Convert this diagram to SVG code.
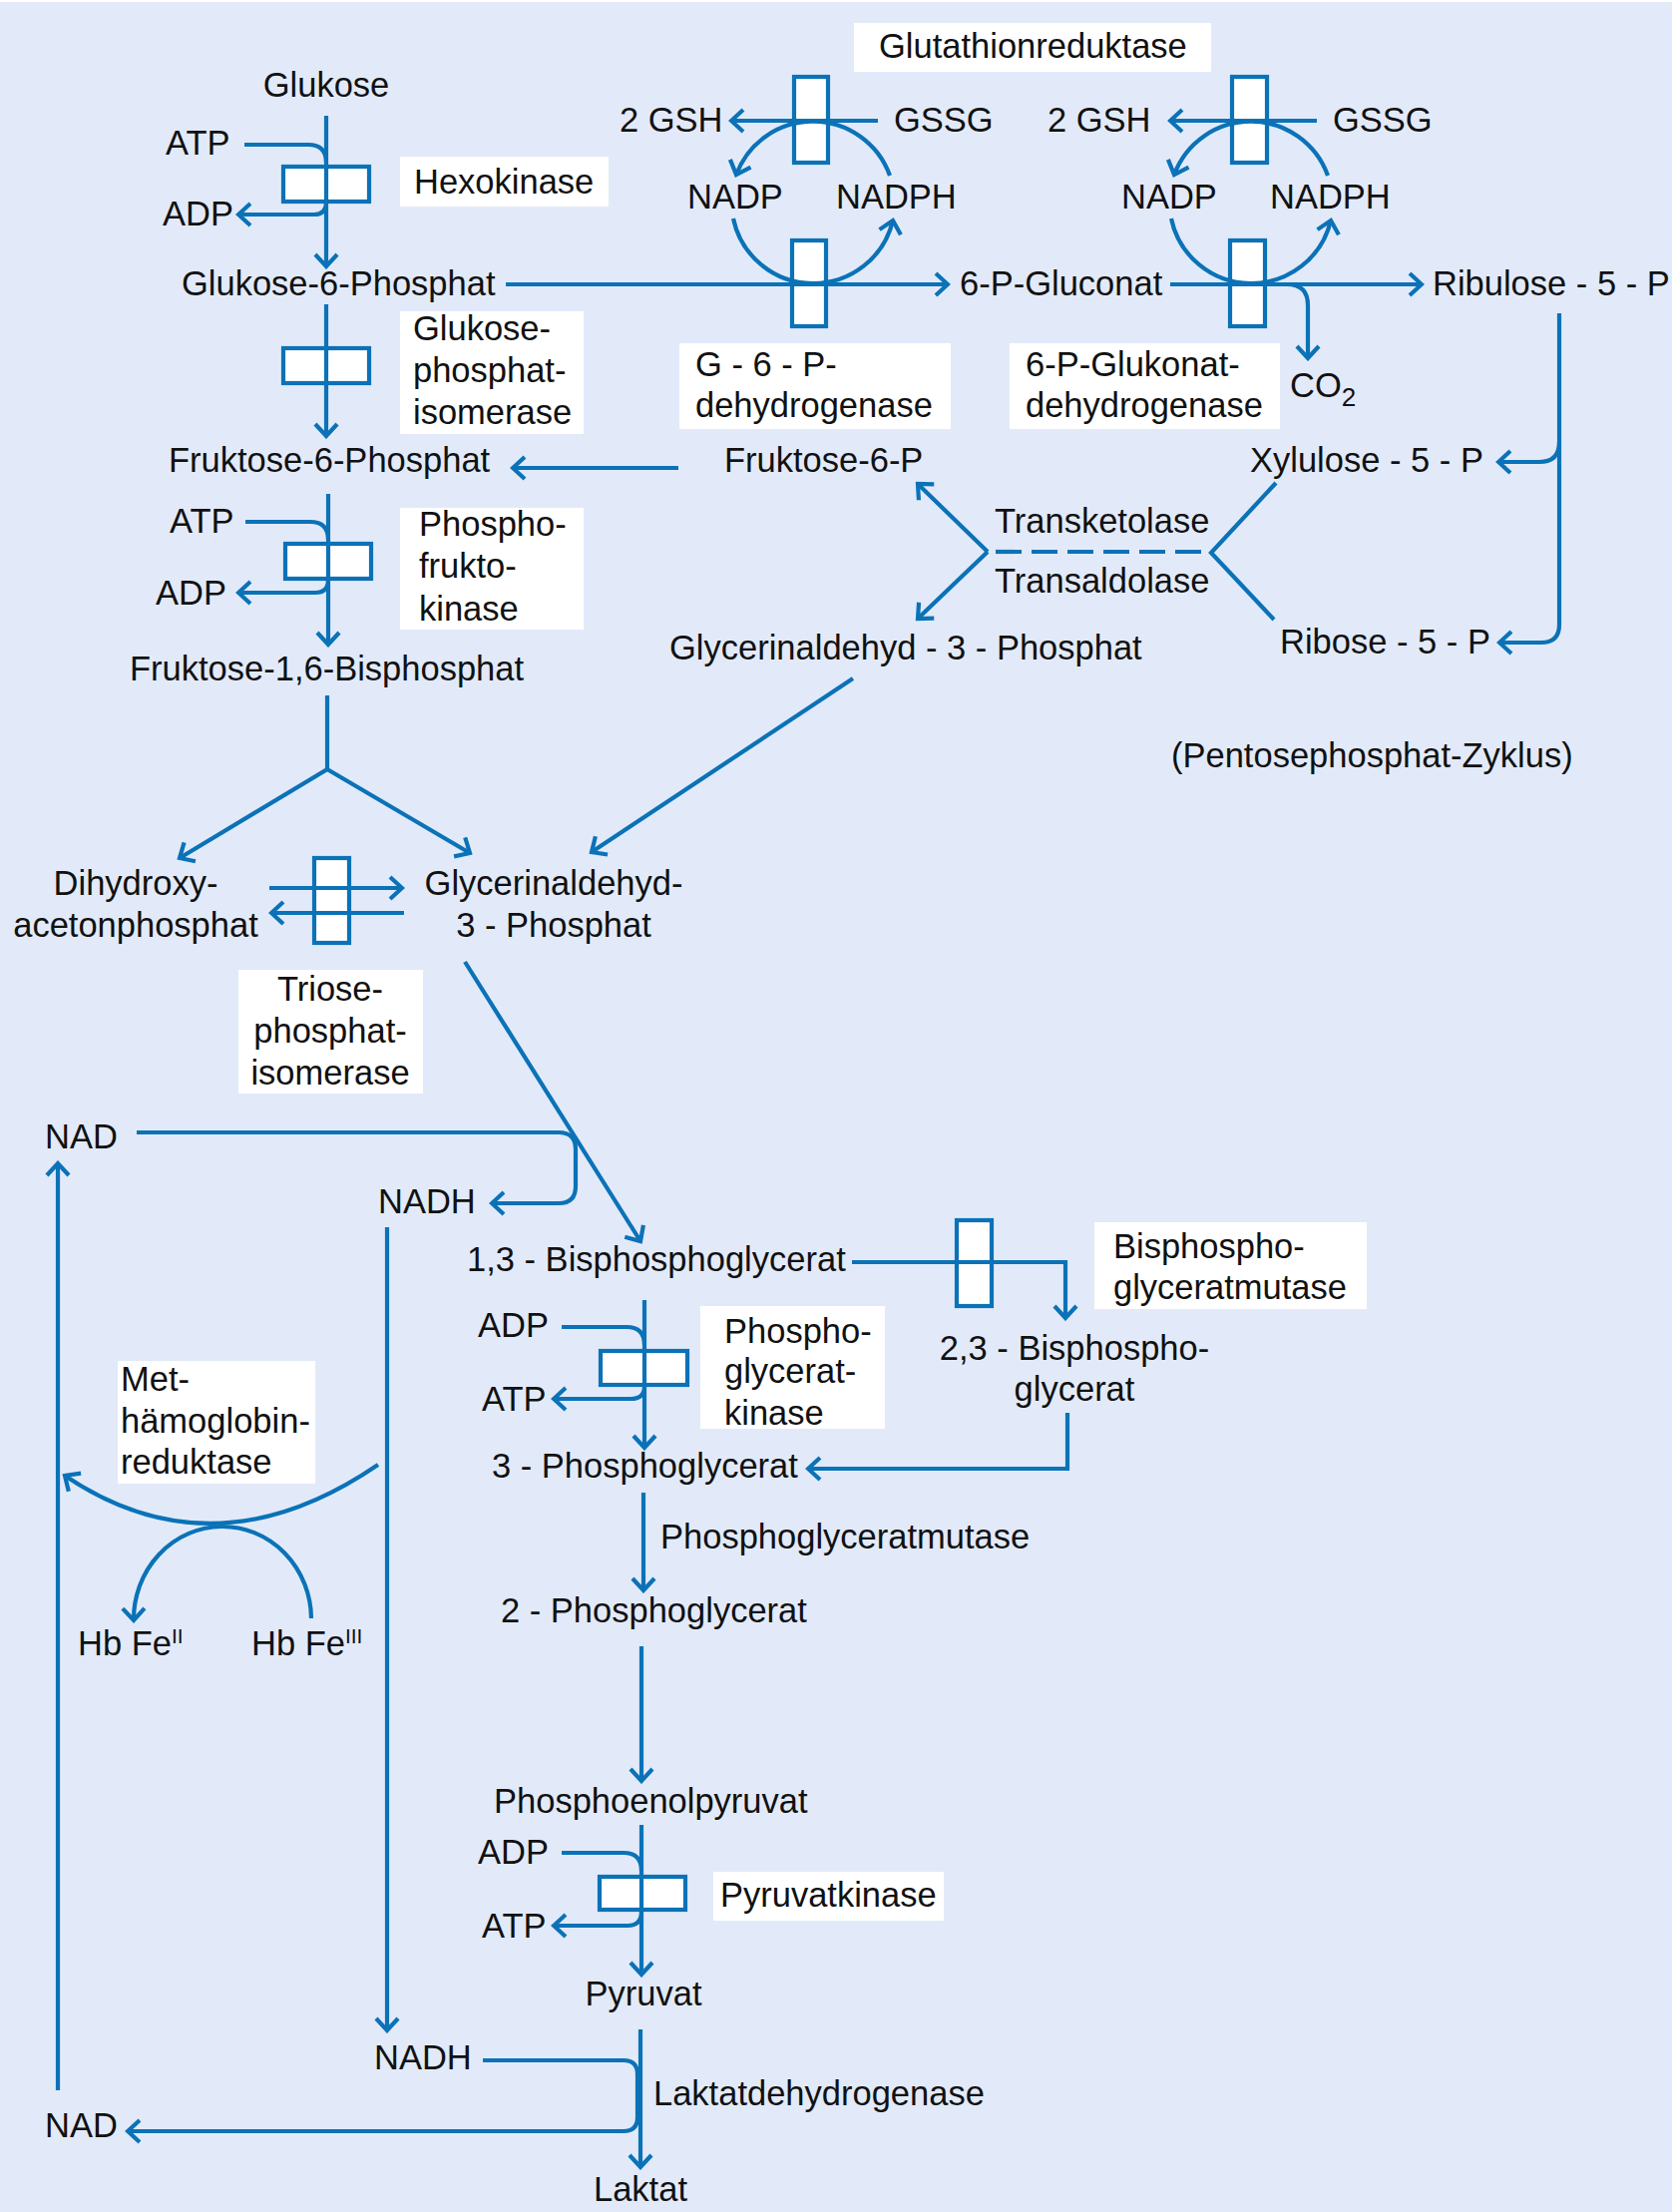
<svg xmlns="http://www.w3.org/2000/svg" width="1679" height="2217" viewBox="0 0 1679 2217">
<defs>
<style>
.t{font-family:"Liberation Sans",Arial,Helvetica,sans-serif;font-size:34.5px;fill:#111}
.m{text-anchor:middle}
.sup{font-size:21px}
.sub{font-size:26px}
.c{fill:none;stroke:#0b72b7;stroke-width:4.2;stroke-linecap:butt;stroke-linejoin:miter}
.a{marker-end:url(#ar)}
.e{fill:#fff;stroke:#0b72b7;stroke-width:4.2}
.lb{fill:#fff}
</style>
<marker id="ar" viewBox="-16 -13 19 26" refX="0" refY="0" markerWidth="19" markerHeight="26" orient="auto" markerUnits="userSpaceOnUse">
<path d="M-12,-11 L0,0 L-12,11" fill="none" stroke="#0b72b7" stroke-width="4.2"/>
</marker>
</defs>
<rect x="0" y="0" width="1679" height="2217" fill="#fff"/>
<rect x="0" y="2" width="1676" height="2215" fill="#e2eaf9"/>

<g id="labels">
<rect class="lb" x="401" y="157" width="209" height="50"/>
<rect class="lb" x="401" y="312" width="184" height="123"/>
<rect class="lb" x="401" y="509" width="184" height="122"/>
<rect class="lb" x="239" y="972" width="185" height="124"/>
<rect class="lb" x="856" y="23" width="358" height="49"/>
<rect class="lb" x="681" y="344" width="272" height="86"/>
<rect class="lb" x="1012" y="344" width="271" height="86"/>
<rect class="lb" x="118" y="1364" width="198" height="123"/>
<rect class="lb" x="702" y="1309" width="185" height="123"/>
<rect class="lb" x="1097" y="1225" width="273" height="87"/>
<rect class="lb" x="715" y="1876" width="231" height="49"/>
</g>

<g id="enzymes">
<rect id="hexokinase-box" class="e" x="284" y="167" width="86" height="35"/>
<rect id="gpi-box" class="e" x="284" y="349" width="86" height="35"/>
<rect id="pfk-box" class="e" x="286" y="545" width="86" height="35"/>
<rect id="tpi-box" class="e" x="315" y="860" width="35" height="85"/>
<rect id="g6pd-box" class="e" x="794" y="241" width="34" height="86"/>
<rect id="gr1-box" class="e" x="796" y="77" width="34" height="86"/>
<rect id="gr2-box" class="e" x="1235" y="77" width="35" height="86"/>
<rect id="pgd-box" class="e" x="1233" y="241" width="35" height="86"/>
<rect id="bpgm-box" class="e" x="959" y="1223" width="35" height="86"/>
<rect id="pgk-box" class="e" x="602" y="1354" width="87" height="34"/>
<rect id="pk-box" class="e" x="601" y="1881" width="86" height="33"/>
</g>

<g id="connectors">
<path class="c a" d="M327,116 V267"/>
<path class="c" d="M245,145 H309 Q327,145 327,163"/>
<path class="c a" d="M327,203 Q327,215 315,215 H239"/>
<path class="c a" d="M327,305 V437"/>
<path class="c a" d="M680,469 H514"/>
<path class="c a" d="M329,495 V646"/>
<path class="c" d="M246,523 H311 Q329,523 329,541"/>
<path class="c a" d="M329,581 Q329,594 316,594 H239"/>
<path class="c a" d="M328,697 V771 L180,860"/>
<path class="c a" d="M328,771 L471,855"/>
<path class="c a" d="M270,890 H403"/>
<path class="c a" d="M405,915 H272"/>
<path class="c a" d="M855,680 L593,854"/>
<path class="c a" d="M137,1135 H560 Q577,1135 577,1152 V1189 Q577,1206 560,1206 H493"/>
<path class="c a" d="M466,964 L642,1244"/>
<path class="c a" d="M388,1230 V2035"/>
<path class="c a" d="M58,2095 V1166"/>
<path class="c a" d="M379,1468 Q215,1580 65,1479"/>
<path class="c a" d="M312,1622 A89,93 0 0 0 134,1624"/>
<path class="c a" d="M854,1265 H1068 V1321"/>
<path class="c a" d="M1070,1416 V1472 H810"/>
<path class="c a" d="M646,1303 V1451"/>
<path class="c" d="M563,1330 H628 Q646,1330 646,1348"/>
<path class="c a" d="M646,1390 Q646,1402 632,1402 H555"/>
<path class="c a" d="M645,1496 V1594"/>
<path class="c a" d="M643,1650 V1785"/>
<path class="c a" d="M643,1829 V1979"/>
<path class="c" d="M563,1857 H625 Q643,1857 643,1875"/>
<path class="c a" d="M643,1916 Q643,1930 629,1930 H555"/>
<path class="c a" d="M642,2034 V2172"/>
<path class="c a" d="M484,2065 H625 Q639,2065 639,2079 V2122 Q639,2136 625,2136 H128"/>
<path class="c a" d="M507,285 H950"/>
<path class="c a" d="M880,121 H733"/>
<path class="c a" d="M892,176 A82,82 0 0 0 738,175"/>
<path class="c a" d="M735,219 A82,82 0 0 0 895,221"/>
<path class="c a" d="M1320,121 H1173"/>
<path class="c a" d="M1331,176 A82,82 0 0 0 1177,175"/>
<path class="c a" d="M1174,219 A82,82 0 0 0 1334,221"/>
<path class="c a" d="M1173,285 H1425"/>
<path class="c a" d="M1290,285 Q1311,285 1311,306 V359"/>
<path class="c a" d="M1563,314 V626 Q1563,644 1545,644 H1503"/>
<path class="c a" d="M1563,443 Q1563,463 1543,463 H1502"/>
<path class="c a" d="M990,553 L920,485"/>
<path class="c a" d="M990,553 L920,620"/>
<path class="c" d="M990,553 H1214" stroke-dasharray="26 10" stroke-dashoffset="-8"/>
<path class="c" d="M1279,484 L1214,554 L1277,621"/>
</g>

<g id="nodes">
<text id="glukose" class="t m" x="327" y="97">Glukose</text>
<text class="t" x="166" y="155">ATP</text>
<text class="t" x="163" y="226">ADP</text>
<text class="t" x="415" y="194">Hexokinase</text>
<text id="g6p" class="t" x="182" y="296">Glukose-6-Phosphat</text>
<text class="t" x="414" y="341">Glukose-</text>
<text class="t" x="414" y="383">phosphat-</text>
<text class="t" x="414" y="425">isomerase</text>
<text id="f6p" class="t" x="169" y="473">Fruktose-6-Phosphat</text>
<text class="t" x="170" y="534">ATP</text>
<text class="t" x="156" y="606">ADP</text>
<text class="t" x="420" y="537">Phospho-</text>
<text class="t" x="420" y="579">frukto-</text>
<text class="t" x="420" y="622">kinase</text>
<text id="f16bp" class="t" x="130" y="682">Fruktose-1,6-Bisphosphat</text>
<text class="t m" x="136" y="897">Dihydroxy-</text>
<text class="t m" x="136" y="939">acetonphosphat</text>
<text class="t m" x="555" y="897">Glycerinaldehyd-</text>
<text class="t m" x="555" y="939">3 - Phosphat</text>
<text class="t m" x="331" y="1003">Triose-</text>
<text class="t m" x="331" y="1045">phosphat-</text>
<text class="t m" x="331" y="1087">isomerase</text>
<text class="t" x="45" y="1151">NAD</text>
<text class="t" x="379" y="1216">NADH</text>
<text id="bpg13" class="t" x="468" y="1274">1,3 - Bisphosphoglycerat</text>
<text class="t" x="1116" y="1261">Bisphospho-</text>
<text class="t" x="1116" y="1302">glyceratmutase</text>
<text class="t m" x="1077" y="1363">2,3 - Bisphospho-</text>
<text class="t m" x="1077" y="1404">glycerat</text>
<text class="t" x="479" y="1340">ADP</text>
<text class="t" x="483" y="1414">ATP</text>
<text class="t" x="726" y="1346">Phospho-</text>
<text class="t" x="726" y="1386">glycerat-</text>
<text class="t" x="726" y="1428">kinase</text>
<text class="t" x="121" y="1394">Met-</text>
<text class="t" x="121" y="1436">hämoglobin-</text>
<text class="t" x="121" y="1477">reduktase</text>
<text id="pg3" class="t" x="493" y="1481">3 - Phosphoglycerat</text>
<text class="t" x="662" y="1552">Phosphoglyceratmutase</text>
<text id="pg2" class="t" x="502" y="1626">2 - Phosphoglycerat</text>
<text class="t" x="78" y="1659">Hb Fe<tspan class="sup" dy="-12">II</tspan></text>
<text class="t" x="252" y="1659">Hb Fe<tspan class="sup" dy="-12">III</tspan></text>
<text id="pep" class="t" x="495" y="1817">Phosphoenolpyruvat</text>
<text class="t" x="479" y="1868">ADP</text>
<text class="t" x="483" y="1942">ATP</text>
<text class="t" x="722" y="1911">Pyruvatkinase</text>
<text id="pyruvat" class="t m" x="645" y="2010">Pyruvat</text>
<text class="t" x="375" y="2074">NADH</text>
<text class="t" x="655" y="2110">Laktatdehydrogenase</text>
<text class="t" x="45" y="2142">NAD</text>
<text id="laktat" class="t m" x="642" y="2206">Laktat</text>
<text class="t" x="881" y="58">Glutathionreduktase</text>
<text class="t" x="621" y="132">2 GSH</text>
<text class="t" x="896" y="132">GSSG</text>
<text class="t" x="1050" y="132">2 GSH</text>
<text class="t" x="1336" y="132">GSSG</text>
<text class="t" x="689" y="209">NADP</text>
<text class="t" x="838" y="209">NADPH</text>
<text class="t" x="1124" y="209">NADP</text>
<text class="t" x="1273" y="209">NADPH</text>
<text id="pgluconat" class="t" x="962" y="296">6-P-Gluconat</text>
<text id="ribulose" class="t" x="1436" y="296">Ribulose - 5 - P</text>
<text class="t" x="697" y="377">G - 6 - P-</text>
<text class="t" x="697" y="418">dehydrogenase</text>
<text class="t" x="1028" y="377">6-P-Glukonat-</text>
<text class="t" x="1028" y="418">dehydrogenase</text>
<text class="t" x="1293" y="398">CO<tspan class="sub" dy="9">2</tspan></text>
<text id="f6p2" class="t" x="726" y="473">Fruktose-6-P</text>
<text id="xylulose" class="t" x="1253" y="473">Xylulose - 5 - P</text>
<text class="t" x="997" y="534">Transketolase</text>
<text class="t" x="997" y="594">Transaldolase</text>
<text id="g3p2" class="t" x="671" y="661">Glycerinaldehyd - 3 - Phosphat</text>
<text id="ribose" class="t" x="1283" y="655">Ribose - 5 - P</text>
<text class="t" x="1174" y="769">(Pentosephosphat-Zyklus)</text>
</g>
</svg>
